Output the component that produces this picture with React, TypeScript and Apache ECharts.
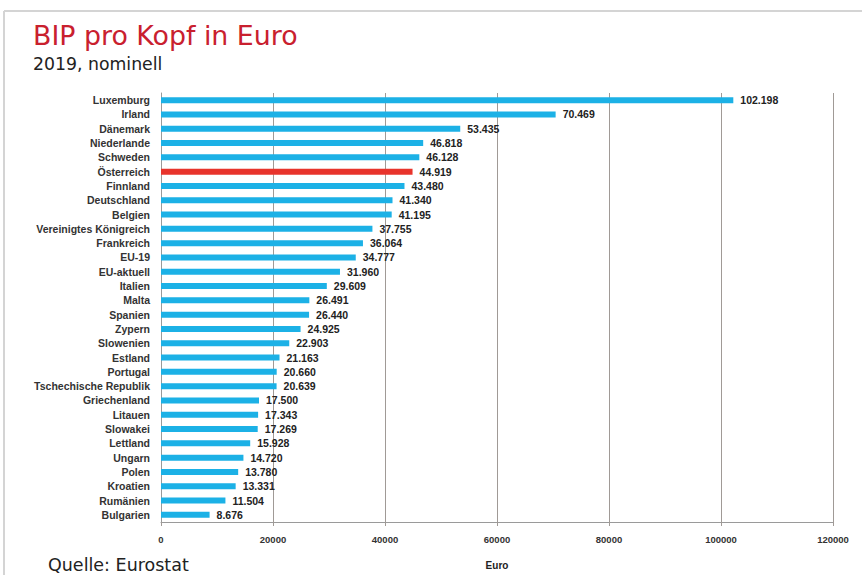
import React, { useEffect, useRef } from "react";
import * as echarts from "echarts";

const categories = [
  "Luxemburg", "Irland", "Dänemark", "Niederlande", "Schweden", "Österreich",
  "Finnland", "Deutschland", "Belgien", "Vereinigtes Königreich", "Frankreich",
  "EU-19", "EU-aktuell", "Italien", "Malta", "Spanien", "Zypern", "Slowenien",
  "Estland", "Portugal", "Tschechische Republik", "Griechenland", "Litauen",
  "Slowakei", "Lettland", "Ungarn", "Polen", "Kroatien", "Rumänien", "Bulgarien",
];
const values = [
  102198, 70469, 53435, 46818, 46128, 44919, 43480, 41340, 41195, 37755, 36064,
  34777, 31960, 29609, 26491, 26440, 24925, 22903, 21163, 20660, 20639, 17500,
  17343, 17269, 15928, 14720, 13780, 13331, 11504, 8676,
];
const highlight = "Österreich";
const xTicks = [0, 20000, 40000, 60000, 80000, 100000, 120000];

const BLUE = "#1cb1e6";
const RED = "#e8342c";

function fmt(v: number) {
  return String(v).replace(/\B(?=(\d{3})+(?!\d))/g, ".");
}

export default function App() {
  const ref = useRef<HTMLDivElement>(null);
  useEffect(() => {
    document.body.style.margin = "0";
    if (!ref.current) return;
    const chart = echarts.init(ref.current, null, { renderer: "svg" });
    const cats = categories.slice().reverse();
    const vals = values.slice().reverse();
    chart.setOption({
      animation: false,
      backgroundColor: "#ffffff",
      textStyle: { fontFamily: "Liberation Sans, Arial, sans-serif" },
      graphic: [
        { type: "line", shape: { x1: 4, y1: 11, x2: 862, y2: 11 }, style: { stroke: "#d4d4d4", lineWidth: 2 } },
        { type: "line", shape: { x1: 4, y1: 11, x2: 4, y2: 575 }, style: { stroke: "#d4d4d4", lineWidth: 2 } },
        {
          type: "text", left: 33, top: 22,
          style: { text: "BIP pro Kopf in Euro", fill: "#c9202e", font: "26.8px 'DejaVu Sans', sans-serif" },
        },
        {
          type: "text", left: 33, top: 55,
          style: { text: "2019, nominell", fill: "#222222", font: "17.3px 'DejaVu Sans', sans-serif" },
        },
        {
          type: "text", left: 48, top: 556,
          style: { text: "Quelle: Eurostat", fill: "#222222", font: "17.5px 'DejaVu Sans', sans-serif" },
        },
      ],
      grid: { left: 161, right: 29, top: 93, height: 430, containLabel: false },
      xAxis: {
        type: "value",
        min: 0,
        max: 120000,
        interval: 20000,
        name: "Euro",
        nameLocation: "middle",
        nameGap: 38,
        nameTextStyle: { fontWeight: "bold", fontSize: 10, color: "#222" },
        axisLine: { show: true, lineStyle: { color: "#9a9a9a", width: 1 } },
        axisTick: { show: true, length: 4, lineStyle: { color: "#a09a96" } },
        axisLabel: {
          fontWeight: "bold", fontSize: 9.5, color: "#333", margin: 12,
          formatter: (v: number) => (xTicks.includes(v) ? String(v) : ""),
        },
        splitLine: { show: true, lineStyle: { color: "#a09a96", width: 1 } },
      },
      yAxis: {
        type: "category",
        data: cats,
        axisLine: { show: true, lineStyle: { color: "#9a9a9a", width: 1 } },
        axisTick: { show: false },
        axisLabel: { fontWeight: "bold", fontSize: 10.5, color: "#333", margin: 11 },
      },
      series: [
        {
          type: "bar",
          data: vals.map((v, i) => ({
            value: v,
            itemStyle: { color: cats[i] === highlight ? RED : BLUE },
          })),
          barWidth: 6,
          label: {
            show: true,
            position: "right",
            distance: 7,
            fontWeight: "bold",
            fontSize: 10.5,
            color: "#222",
            formatter: (p: any) => fmt(p.value),
          },
        },
      ],
    });
    return () => chart.dispose();
  }, []);
  return <div ref={ref} style={{ width: 862, height: 575 }} />;
}
